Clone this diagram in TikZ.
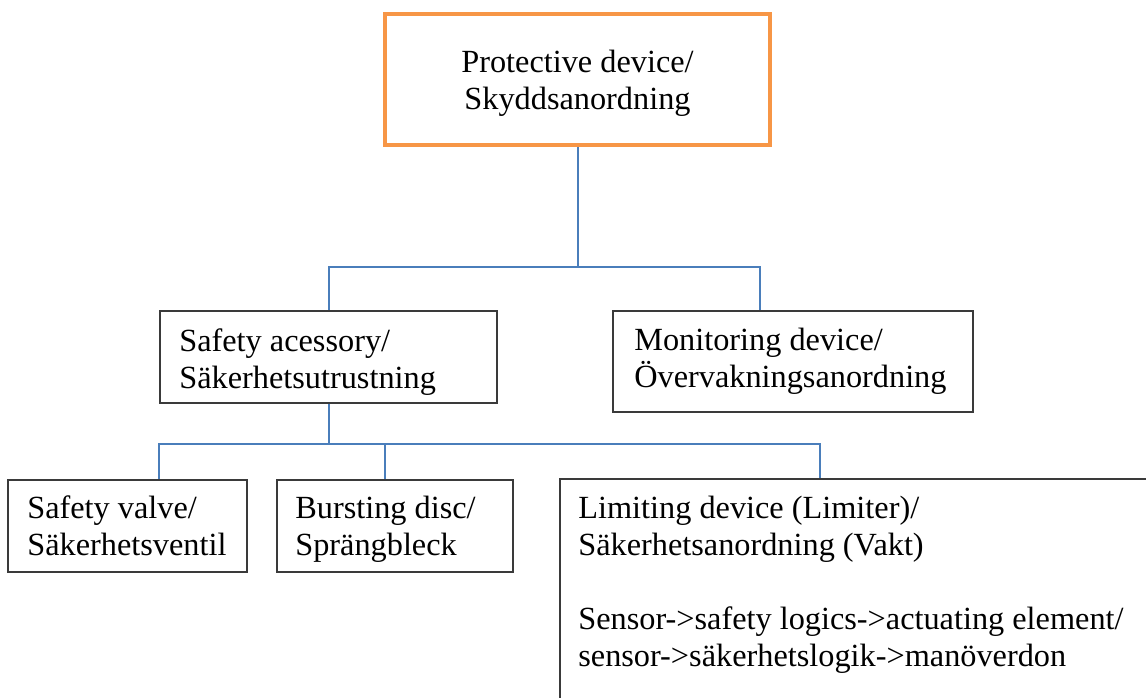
\documentclass[tikz,border=0pt]{standalone}
\usepackage{fontspec}
\setmainfont{Liberation Serif}
\usetikzlibrary{calc}
\definecolor{orangeline}{HTML}{F79646}
\definecolor{blueline}{HTML}{4A7EBB}
\definecolor{boxgray}{HTML}{3A3A3A}
\begin{document}
\begin{tikzpicture}[x=1pt,y=-1pt,
  box/.style={draw=boxgray, line width=1.7pt, inner sep=0pt, fill=white},
  topbox/.style={draw=orangeline, line width=4.2pt, inner sep=0pt},
  conn/.style={draw=blueline, line width=2pt},
  label/.style={anchor=north west, inner sep=0pt, align=left, font=\fontsize{32.3}{37}\selectfont}]
\clip (0,0) rectangle (1146,697);
\fill[white] (0,0) rectangle (1146,697);
% boxes
\node[topbox, minimum width=385pt, minimum height=131pt] (top) at (577.5,79.5) {};
\node[box, minimum width=337pt, minimum height=92pt] (sa) at (328.5,357) {};
\node[box, minimum width=360pt, minimum height=101pt] (md) at (793,361.5) {};
\node[box, minimum width=239pt, minimum height=92pt] (sv) at (127.5,526) {};
\node[box, minimum width=236pt, minimum height=92pt] (bd) at (395,526) {};
\node[box, minimum width=680pt, minimum height=322pt] (ld) at (900,640) {};
% texts
\node[label, anchor=center, align=center] (ttop) at ($(top.center)+(0,3.5)$) {Protective device/\\Skyddsanordning};
\node[label] (tsa) at ($(sa.north west)+(20,18)$) {Safety acessory/\\Säkerhetsutrustning};
\node[label] (tmd) at ($(md.north west)+(22,18)$) {Monitoring device/\\Övervakningsanordning};
\node[label] (tsv) at ($(sv.north west)+(20,16.5)$) {Safety valve/\\Säkerhetsventil};
\node[label] (tbd) at ($(bd.north west)+(19,16.5)$) {Bursting disc/\\Sprängbleck};
\node[label] (tld) at ($(ld.north west)+(19,17.5)$) {Limiting device (Limiter)/\\Säkerhetsanordning (Vakt)\\[37.5pt]Sensor->safety logics->actuating element/\\sensor->säkerhetslogik->manöverdon};
% connectors
\coordinate (b1) at ($(top.south)+(0,120)$);
\coordinate (mdt) at ($(md.north west)+(148,0)$);
\draw[conn] (top.south) -- (b1);
\draw[conn] (sa.north) |- (b1) -| (mdt);
\coordinate (b2) at ($(sa.south)+(0,40)$);
\coordinate (svt) at ($(sv.north west)+(152,0)$);
\coordinate (bdt) at ($(bd.north west)+(109,0)$);
\coordinate (ldt) at ($(ld.north west)+(261,0)$);
\draw[conn] (sa.south) -- (b2);
\draw[conn] (svt) |- (b2) -| (ldt);
\draw[conn] (bdt) -- (bdt |- b2);
\end{tikzpicture}
\end{document}
